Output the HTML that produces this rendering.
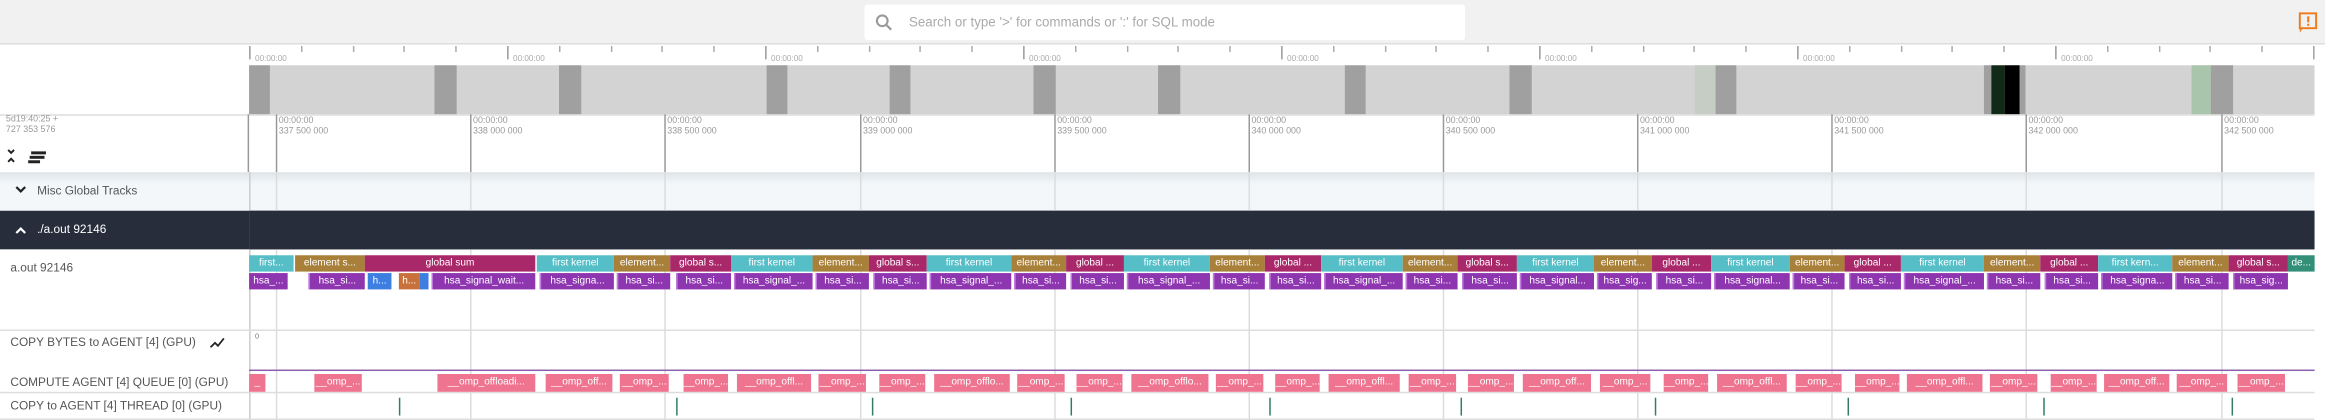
<!DOCTYPE html>
<html><head><meta charset="utf-8"><style>
*{margin:0;padding:0;box-sizing:border-box}
html,body{width:2325px;height:420px;overflow:hidden;background:#fff}
#s{position:absolute;left:0;top:0;width:1568px;height:283px;transform:scale(1.48278,1.4841);transform-origin:0 0;font-family:"Liberation Sans",sans-serif;}
.a{position:absolute}
.s{position:absolute;height:11px;color:#fff;font-size:6.8px;line-height:11px;text-align:center;overflow:hidden;white-space:nowrap}
.F{background:#56bec6}.E{background:#a8803a}.G{background:#a9286a}.D{background:#338f78}
.H{background:#8e35b0;border-left:1px solid #c27be0}
.O{background:#ef7490;top:252px;height:11.5px;line-height:11.5px}
.r1{top:172px}.r2{top:184px}
.gl{position:absolute;width:1px;background:#dcdcdc;top:116px;height:167px}
.ax{position:absolute;top:77px;height:39px;width:1px;background:#999}
.al{position:absolute;top:79px;font-size:6px;color:#999;line-height:6.5px}
.ot{position:absolute;top:31px;width:1px;height:4px;background:#aaa}
.om{position:absolute;top:31px;width:1px;height:9px;background:#999}
.ol{position:absolute;top:37px;font-size:5.5px;color:#aaa}
.ob{position:absolute;top:44px;height:33px;background:#a0a0a0}
.tk{position:absolute;top:268px;height:12px;width:1px;background:#2f7d69}
.lbl{position:absolute;left:7px;font-size:8px;color:#555}
</style></head><body><div id="s">
<div class="a" style="left:0;top:0;width:1568px;height:30px;background:#f1f1f1;border-bottom:1px solid #ddd"></div>
<div class="a" style="left:583px;top:3px;width:405px;height:24px;background:#fff;border-radius:2px"></div>
<svg class="a" style="left:590px;top:9px" width="12" height="12"><circle cx="5" cy="5" r="3.6" fill="none" stroke="#999" stroke-width="1.4"/><line x1="7.6" y1="7.6" x2="11" y2="11" stroke="#999" stroke-width="1.5"/></svg>
<div class="a" style="left:613px;top:9px;font-size:9px;color:#aaa;line-height:12px">Search or type '&gt;' for commands or ':' for SQL mode</div>
<svg class="a" style="left:1550px;top:8px" width="14" height="16"><rect x="1" y="1" width="11" height="10" fill="none" stroke="#f07a1a" stroke-width="1.3"/><path d="M1 11 L1 14 L3 11" fill="#f07a1a"/><rect x="6" y="3" width="1.4" height="4" fill="#f07a1a"/><rect x="6" y="8" width="1.4" height="1.4" fill="#f07a1a"/></svg>
<div class="a" style="left:168px;top:44px;width:1393px;height:33px;background:#d3d3d3"></div>
<div class="ob" style="left:168px;width:14px"></div>
<div class="ob" style="left:293px;width:15px"></div>
<div class="ob" style="left:377px;width:15px"></div>
<div class="ob" style="left:517px;width:14px"></div>
<div class="ob" style="left:600px;width:14px"></div>
<div class="ob" style="left:697px;width:15px"></div>
<div class="ob" style="left:781px;width:15px"></div>
<div class="ob" style="left:907px;width:14px"></div>
<div class="ob" style="left:1018px;width:15px"></div>
<div class="ob" style="left:1143px;width:14px;background:#c5cdc5"></div>
<div class="ob" style="left:1157px;width:14px"></div>
<div class="ob" style="left:1338px;width:28px"></div>
<div class="ob" style="left:1343px;width:9px;background:#112a17"></div>
<div class="ob" style="left:1352px;width:10px;background:#000"></div>
<div class="ob" style="left:1478px;width:13px;background:#a9c5ab"></div>
<div class="ob" style="left:1491px;width:15px"></div>
<div class="om" style="left:168px"></div><div class="ol" style="left:172px">00:00:00</div>
<div class="om" style="left:342px"></div><div class="ol" style="left:346px">00:00:00</div>
<div class="om" style="left:516px"></div><div class="ol" style="left:520px">00:00:00</div>
<div class="om" style="left:690px"></div><div class="ol" style="left:694px">00:00:00</div>
<div class="om" style="left:864px"></div><div class="ol" style="left:868px">00:00:00</div>
<div class="om" style="left:1038px"></div><div class="ol" style="left:1042px">00:00:00</div>
<div class="om" style="left:1212px"></div><div class="ol" style="left:1216px">00:00:00</div>
<div class="om" style="left:1386px"></div><div class="ol" style="left:1390px">00:00:00</div>
<div class="om" style="left:1560px"></div>
<div class="ot" style="left:203px"></div><div class="ot" style="left:238px"></div><div class="ot" style="left:272px"></div><div class="ot" style="left:307px"></div>
<div class="ot" style="left:377px"></div><div class="ot" style="left:412px"></div><div class="ot" style="left:446px"></div><div class="ot" style="left:481px"></div>
<div class="ot" style="left:551px"></div><div class="ot" style="left:586px"></div><div class="ot" style="left:620px"></div><div class="ot" style="left:655px"></div>
<div class="ot" style="left:725px"></div><div class="ot" style="left:760px"></div><div class="ot" style="left:794px"></div><div class="ot" style="left:829px"></div>
<div class="ot" style="left:899px"></div><div class="ot" style="left:934px"></div><div class="ot" style="left:968px"></div><div class="ot" style="left:1003px"></div>
<div class="ot" style="left:1073px"></div><div class="ot" style="left:1108px"></div><div class="ot" style="left:1142px"></div><div class="ot" style="left:1177px"></div>
<div class="ot" style="left:1247px"></div><div class="ot" style="left:1282px"></div><div class="ot" style="left:1316px"></div><div class="ot" style="left:1351px"></div>
<div class="ot" style="left:1421px"></div><div class="ot" style="left:1456px"></div><div class="ot" style="left:1490px"></div><div class="ot" style="left:1525px"></div>
<div class="a" style="left:0;top:77px;width:1561px;height:1px;background:#ddd"></div>
<div class="a" style="left:4px;top:78px;font-size:6px;color:#999;line-height:6.5px">5d19:40:25 +<br>727 353 576</div>
<svg class="a" style="left:4px;top:100px" width="8" height="10"><polyline points="1.5,1 3.5,3 5.5,1" fill="none" stroke="#222" stroke-width="1.3"/><polyline points="1.5,9 3.5,7 5.5,9" fill="none" stroke="#222" stroke-width="1.3"/></svg>
<div class="a" style="left:21px;top:102px;width:10px;height:1.5px;background:#222"></div>
<div class="a" style="left:20px;top:105px;width:10px;height:1.5px;background:#222"></div>
<div class="a" style="left:19px;top:108px;width:8px;height:1.5px;background:#222"></div>
<div class="a" style="left:167px;top:77px;width:1px;height:39px;background:#999"></div>
<div class="ax" style="left:186px"></div><div class="al" style="left:188px">00:00:00<br>337 500 000</div>
<div class="ax" style="left:317px"></div><div class="al" style="left:319px">00:00:00<br>338 000 000</div>
<div class="ax" style="left:448px"></div><div class="al" style="left:450px">00:00:00<br>338 500 000</div>
<div class="ax" style="left:580px"></div><div class="al" style="left:582px">00:00:00<br>339 000 000</div>
<div class="ax" style="left:711px"></div><div class="al" style="left:713px">00:00:00<br>339 500 000</div>
<div class="ax" style="left:842px"></div><div class="al" style="left:844px">00:00:00<br>340 000 000</div>
<div class="ax" style="left:973px"></div><div class="al" style="left:975px">00:00:00<br>340 500 000</div>
<div class="ax" style="left:1104px"></div><div class="al" style="left:1106px">00:00:00<br>341 000 000</div>
<div class="ax" style="left:1235px"></div><div class="al" style="left:1237px">00:00:00<br>341 500 000</div>
<div class="ax" style="left:1366px"></div><div class="al" style="left:1368px">00:00:00<br>342 000 000</div>
<div class="ax" style="left:1498px"></div><div class="al" style="left:1500px">00:00:00<br>342 500 000</div>
<div class="a" style="left:0;top:116px;width:1561px;height:26px;background:linear-gradient(#dfe4e8,#f3f7fa 8px,#f3f7fa)"></div>
<svg class="a" style="left:10px;top:125px" width="8" height="6"><polyline points="1,1 4,4 7,1" fill="none" stroke="#222" stroke-width="1.5"/></svg>
<div class="a" style="left:25px;top:124px;font-size:8px;color:#555">Misc Global Tracks</div>
<div class="a" style="left:0;top:142px;width:1561px;height:26px;background:#272d3b"></div>
<svg class="a" style="left:10px;top:152px" width="8" height="6"><polyline points="1,5 4,2 7,5" fill="none" stroke="#fff" stroke-width="1.5"/></svg>
<div class="a" style="left:25px;top:150px;font-size:8px;color:#fff">./a.out 92146</div>
<div class="a" style="left:168px;top:116px;width:1px;height:167px;background:#ccc"></div>
<div class="gl" style="left:186px"></div><div class="gl" style="left:317px"></div><div class="gl" style="left:448px"></div><div class="gl" style="left:580px"></div><div class="gl" style="left:711px"></div><div class="gl" style="left:842px"></div><div class="gl" style="left:973px"></div><div class="gl" style="left:1104px"></div><div class="gl" style="left:1235px"></div><div class="gl" style="left:1366px"></div><div class="gl" style="left:1498px"></div>
<div class="a" style="left:168px;top:142px;width:1393px;height:26px;background:#272d3b"></div>
<div class="a" style="left:0;top:222px;width:1561px;height:1px;background:#ddd"></div>
<div class="a" style="left:0;top:264px;width:1561px;height:1px;background:#ddd"></div>
<div class="a" style="left:0;top:282px;width:1561px;height:1px;background:#ddd"></div>
<div class="a" style="left:1561px;top:30px;width:7px;height:253px;background:#fff"></div>
<div class="a" style="left:168px;top:248.5px;width:1393px;height:1px;background:#8a5fb0"></div>
<div class="lbl" style="top:176px">a.out 92146</div>
<div class="lbl" style="top:226px">COPY BYTES to AGENT [4] (GPU)</div>
<svg class="a" style="left:141px;top:227px" width="12" height="9"><polyline points="1,7 4,4 6,6 10,1" fill="none" stroke="#222" stroke-width="1.2"/></svg>
<div class="a" style="left:172px;top:224px;font-size:5px;color:#777">0</div>
<div class="lbl" style="top:253px">COMPUTE AGENT [4] QUEUE [0] (GPU)</div>
<div class="lbl" style="top:269px">COPY to AGENT [4] THREAD [0] (GPU)</div>
<div class="s r1 F" style="left:168px;width:30px">first...</div>
<div class="s r1 E" style="left:199px;width:47px">element s...</div>
<div class="s r1 G" style="left:246px;width:115px">global sum</div>
<div class="s r1 F" style="left:362px;width:52px">first kernel</div>
<div class="s r1 E" style="left:414px;width:38px">element...</div>
<div class="s r1 G" style="left:452px;width:41px">global s...</div>
<div class="s r1 F" style="left:493px;width:55px">first kernel</div>
<div class="s r1 E" style="left:548px;width:38px">element...</div>
<div class="s r1 G" style="left:586px;width:39px">global s...</div>
<div class="s r1 F" style="left:625px;width:57px">first kernel</div>
<div class="s r1 E" style="left:682px;width:37px">element...</div>
<div class="s r1 G" style="left:719px;width:39px">global ...</div>
<div class="s r1 F" style="left:758px;width:58px">first kernel</div>
<div class="s r1 E" style="left:816px;width:37px">element...</div>
<div class="s r1 G" style="left:853px;width:38px">global ...</div>
<div class="s r1 F" style="left:891px;width:55px">first kernel</div>
<div class="s r1 E" style="left:946px;width:37px">element...</div>
<div class="s r1 G" style="left:983px;width:40px">global s...</div>
<div class="s r1 F" style="left:1023px;width:52px">first kernel</div>
<div class="s r1 E" style="left:1075px;width:39px">element...</div>
<div class="s r1 G" style="left:1114px;width:40px">global ...</div>
<div class="s r1 F" style="left:1154px;width:53px">first kernel</div>
<div class="s r1 E" style="left:1207px;width:37px">element...</div>
<div class="s r1 G" style="left:1244px;width:38px">global ...</div>
<div class="s r1 F" style="left:1282px;width:56px">first kernel</div>
<div class="s r1 E" style="left:1338px;width:38px">element...</div>
<div class="s r1 G" style="left:1376px;width:39px">global ...</div>
<div class="s r1 F" style="left:1415px;width:50px">first kern...</div>
<div class="s r1 E" style="left:1465px;width:38px">element...</div>
<div class="s r1 G" style="left:1503px;width:40px">global s...</div>
<div class="s r1 D" style="left:1543px;width:18px">de...</div>
<div class="s r2 H" style="left:168px;width:26px;border:0">hsa_...</div>
<div class="s r2 H" style="left:208px;width:38px">hsa_si...</div>
<div class="s r2" style="left:248px;width:16px;background:#3d7ee0">h...</div>
<div class="s r2" style="left:269px;width:14px;background:#c8713c">h...</div>
<div class="s r2" style="left:283px;width:6px;background:#3d7ee0"></div>
<div class="s r2 H" style="left:291px;width:70px">hsa_signal_wait...</div>
<div class="s r2 H" style="left:364px;width:50px">hsa_signa...</div>
<div class="s r2 H" style="left:416px;width:36px">hsa_si...</div>
<div class="s r2 H" style="left:456px;width:37px">hsa_si...</div>
<div class="s r2 H" style="left:495px;width:53px">hsa_signal_...</div>
<div class="s r2 H" style="left:550px;width:36px">hsa_si...</div>
<div class="s r2 H" style="left:589px;width:36px">hsa_si...</div>
<div class="s r2 H" style="left:627px;width:55px">hsa_signal_...</div>
<div class="s r2 H" style="left:684px;width:35px">hsa_si...</div>
<div class="s r2 H" style="left:722px;width:36px">hsa_si...</div>
<div class="s r2 H" style="left:760px;width:56px">hsa_signal_...</div>
<div class="s r2 H" style="left:818px;width:35px">hsa_si...</div>
<div class="s r2 H" style="left:856px;width:35px">hsa_si...</div>
<div class="s r2 H" style="left:893px;width:53px">hsa_signal_...</div>
<div class="s r2 H" style="left:948px;width:35px">hsa_si...</div>
<div class="s r2 H" style="left:986px;width:37px">hsa_si...</div>
<div class="s r2 H" style="left:1025px;width:50px">hsa_signal...</div>
<div class="s r2 H" style="left:1077px;width:37px">hsa_sig...</div>
<div class="s r2 H" style="left:1117px;width:37px">hsa_si...</div>
<div class="s r2 H" style="left:1156px;width:51px">hsa_signal...</div>
<div class="s r2 H" style="left:1209px;width:35px">hsa_si...</div>
<div class="s r2 H" style="left:1247px;width:35px">hsa_si...</div>
<div class="s r2 H" style="left:1284px;width:54px">hsa_signal_...</div>
<div class="s r2 H" style="left:1340px;width:36px">hsa_si...</div>
<div class="s r2 H" style="left:1379px;width:36px">hsa_si...</div>
<div class="s r2 H" style="left:1417px;width:48px">hsa_signa...</div>
<div class="s r2 H" style="left:1467px;width:36px">hsa_si...</div>
<div class="s r2 H" style="left:1506px;width:37px">hsa_sig...</div>
<div class="s O" style="left:168px;width:11px">_</div>
<div class="s O" style="left:212px;width:32px">__omp_...</div>
<div class="s O" style="left:295px;width:66px">__omp_offloadi...</div>
<div class="s O" style="left:368px;width:45px">__omp_off...</div>
<div class="s O" style="left:418px;width:33px">__omp_...</div>
<div class="s O" style="left:461px;width:30px">__omp_...</div>
<div class="s O" style="left:497px;width:50px">__omp_offl...</div>
<div class="s O" style="left:552px;width:32px">__omp_...</div>
<div class="s O" style="left:593px;width:31px">__omp_...</div>
<div class="s O" style="left:630px;width:51px">__omp_offlo...</div>
<div class="s O" style="left:686px;width:32px">__omp_...</div>
<div class="s O" style="left:726px;width:31px">__omp_...</div>
<div class="s O" style="left:763px;width:52px">__omp_offlo...</div>
<div class="s O" style="left:820px;width:32px">__omp_...</div>
<div class="s O" style="left:860px;width:30px">__omp_...</div>
<div class="s O" style="left:896px;width:48px">__omp_offl...</div>
<div class="s O" style="left:950px;width:32px">__omp_...</div>
<div class="s O" style="left:990px;width:31px">__omp_...</div>
<div class="s O" style="left:1027px;width:46px">__omp_off...</div>
<div class="s O" style="left:1079px;width:34px">__omp_...</div>
<div class="s O" style="left:1122px;width:30px">__omp_...</div>
<div class="s O" style="left:1158px;width:47px">__omp_offl...</div>
<div class="s O" style="left:1211px;width:31px">__omp_...</div>
<div class="s O" style="left:1251px;width:30px">__omp_...</div>
<div class="s O" style="left:1286px;width:51px">__omp_offl...</div>
<div class="s O" style="left:1342px;width:32px">__omp_...</div>
<div class="s O" style="left:1383px;width:31px">__omp_...</div>
<div class="s O" style="left:1419px;width:44px">__omp_off...</div>
<div class="s O" style="left:1468px;width:34px">__omp_...</div>
<div class="s O" style="left:1509px;width:32px">__omp_...</div>
<div class="tk" style="left:269px"></div><div class="tk" style="left:456px"></div><div class="tk" style="left:588px"></div><div class="tk" style="left:722px"></div><div class="tk" style="left:856px"></div><div class="tk" style="left:985px"></div><div class="tk" style="left:1116px"></div><div class="tk" style="left:1246px"></div><div class="tk" style="left:1378px"></div><div class="tk" style="left:1505px"></div>
</div></body></html>
